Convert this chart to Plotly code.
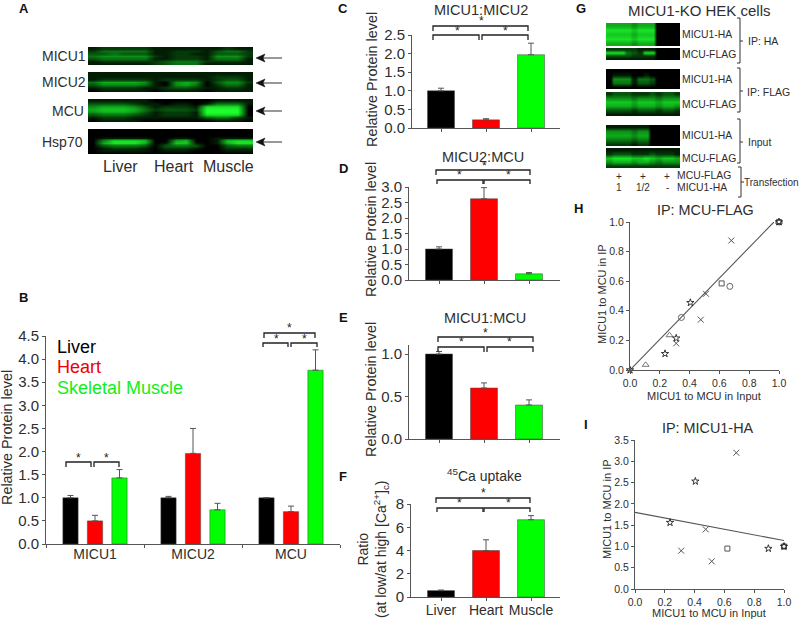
import plotly.graph_objects as go

W, H = 800, 621
BLACK, RED, GREEN = "#000000", "#ff0000", "#00ff00"
TXT = "#2e2e2e"
AX = "#555555"
FONT = "Liberation Sans, Arial, sans-serif"

# ---------- data ----------
B_CATS = ["MICU1", "MICU2", "MCU"]
B_LIVER = [1.0, 1.0, 1.0]
B_LIVER_ERR = [0.05, 0.03, 0.0]
B_HEART = [0.5, 1.96, 0.7]
B_HEART_ERR = [0.12, 0.54, 0.12]
B_MUSCLE = [1.43, 0.74, 3.76]
B_MUSCLE_ERR = [0.18, 0.14, 0.44]

TISSUES = ["Liver", "Heart", "Muscle"]
C_VALS = [1.0, 0.22, 1.97]
C_ERR = [0.07, 0.03, 0.31]
D_VALS = [1.0, 2.62, 0.2]
D_ERR = [0.07, 0.36, 0.04]
E_VALS = [1.0, 0.6, 0.4]
E_ERR = [0.03, 0.06, 0.06]
F_VALS = [0.55, 4.0, 6.65]
F_ERR = [0.05, 0.92, 0.35]

H_CROSS_X = [0.68, 0.51, 0.475, 0.31]
H_CROSS_Y = [0.875, 0.515, 0.34, 0.18]
H_STAR_X = [0.405, 0.31, 0.235, 0.0, 1.0]
H_STAR_Y = [0.455, 0.215, 0.11, 0.0, 1.0]
H_CIRCLE_X = [0.345, 0.67, 1.0]
H_CIRCLE_Y = [0.355, 0.565, 1.0]
H_SQUARE_X = [0.615, 1.0]
H_SQUARE_Y = [0.585, 1.0]
H_TRI_X = [0.105, 0.265, 1.0]
H_TRI_Y = [0.035, 0.235, 1.0]
H_FIT_X = [0.0, 0.966]
H_FIT_Y = [0.0, 1.0]

I_CROSS_X = [0.68, 0.475, 0.31, 0.515]
I_CROSS_Y = [3.2, 1.4, 0.9, 0.65]
I_STAR_X = [0.405, 0.235, 0.895, 1.0]
I_STAR_Y = [2.53, 1.56, 0.95, 1.0]
I_SQUARE_X = [0.62, 1.0]
I_SQUARE_Y = [0.95, 1.0]
I_CIRCLE_X = [1.0]
I_CIRCLE_Y = [1.0]
I_FIT_X = [0.0, 1.0]
I_FIT_Y = [1.8, 1.14]

# Blot intensities (0-9), read by eye, one string per row
A_MICU1 = ["1222221111111211", "2444441122213442", "3343331122113332", "4555552122215552",
           "3444441122214441", "1222222344422221", "1111112344411111"]
A_MICU2 = ["1111111111111111", "1111111111112221", "1222221222212331", "4666651056503552",
           "3555541056402441", "1222211233211221", "0111110111101111"]
A_MCU = ["1111110000001111", "3333211011014441", "5666531222188880", "6777642333299990",
         "5666531222199990", "3444321222188880", "1222111111134421", "0111100000001110"]
A_HSP = ["0000000000000000", "0000000000000000", "0000000000000000", "0111110011001111",
         "0588870067001788", "0688860177101688", "0344430344300344", "0122210222100222",
         "0111110111000111", "0000000000000000"]
G_1 = ["666656660000", "888878880000", "777767770000", "888878880000", "666656660000"]
G_2 = ["222221110000", "888432880000", "333322220000", "111111110000"]
G_3 = ["000000000000", "011100100000", "055514430000", "044413320000", "000000000000"]
G_4 = ["233322232332", "555545554555", "777767776777", "666656665665", "333323332332", "111111111111"]
G_5 = ["111111100000", "555545500000", "666656600000", "444434400000", "222212200000"]
G_6 = ["111111111111", "233322232221", "788877876776", "566656654555", "222222222222"]

fig = go.Figure()
layout = dict(
    template="none",
    width=W, height=H, margin=dict(l=0, r=0, t=0, b=0, pad=0),
    paper_bgcolor="white", plot_bgcolor="rgba(0,0,0,0)", showlegend=False,
    barmode="overlay", font=dict(family=FONT, color=TXT),
)
shapes, annos = [], []
# pixel-overlay axes used for annotation, brackets and blots
layout["xaxis"] = dict(domain=[0, 1], range=[0, W], visible=False, fixedrange=True, automargin=False)
layout["yaxis"] = dict(domain=[0, 1], range=[H, 0], visible=False, fixedrange=True, automargin=False)


def T(x, y, text, size=14, color=TXT, anchor="center", angle=0, bold=False):
    annos.append(dict(xref="x", yref="y", x=x, y=y, text=f"<b>{text}</b>" if bold else text,
                      showarrow=False, xanchor=anchor, yanchor="middle", textangle=angle,
                      font=dict(size=size, color=color, family=FONT), borderpad=0, borderwidth=0))


def bracket(x0, x1, ytop, ybot, star_x=None, star_y=None):
    shapes.append(dict(type="path", xref="x", yref="y",
                       path=f"M {x0} {ybot} L {x0} {ytop} L {x1} {ytop} L {x1} {ybot}",
                       line=dict(color="#222222", width=1.3), layer="above"))
    T((x0 + x1) / 2 if star_x is None else star_x, star_y, "*", size=12, color="#222222")


def arrow(x_tip, x_tail, y):
    shapes.append(dict(type="path", xref="x", yref="y", path=f"M {x_tip + 5} {y} L {x_tail} {y}",
                       line=dict(color="#333", width=1), layer="above"))
    shapes.append(dict(type="path", xref="x", yref="y",
                       path=f"M {x_tip} {y} L {x_tip + 9} {y - 4} L {x_tip + 7} {y} L {x_tip + 9} {y + 4} Z",
                       fillcolor="#111", line=dict(color="#111", width=0.5), layer="above"))


def blot(rows, left, top, right, bottom, rep=1):
    z = [[int(c) for c in r for _ in range(rep)] for r in rows]
    nc, nr = len(z[0]), len(z)
    dx, dy = (right - left) / nc, (bottom - top) / nr
    fig.add_trace(go.Heatmap(z=z, x0=left + dx / 2, dx=dx, y0=top + dy / 2, dy=dy,
                             xaxis="x", yaxis="y", zmin=0, zmax=9, zsmooth="best", showscale=False,
                             hoverinfo="skip",
                             colorscale=[[0, "#000000"], [0.6, "#0c9a18"], [1, "#1eff2c"]]))


def axes(n, left, top, right, bottom, xr, yr, **kw):
    xa = dict(domain=[left / W, right / W], range=xr, anchor=f"y{n}", showgrid=False, zeroline=False,
              showline=True, linecolor=AX, linewidth=1, ticks="outside", ticklen=3, tickwidth=1,
              automargin=False, tickcolor=AX, fixedrange=True,
              tickfont=dict(size=kw.get("xfs", 14), color=TXT, family=FONT))
    ya = dict(domain=[1 - bottom / H, 1 - top / H], range=yr, anchor=f"x{n}", showgrid=False, zeroline=False,
              showline=True, linecolor=AX, linewidth=1, ticks="outside", ticklen=3, tickwidth=1,
              automargin=False, tickcolor=AX, fixedrange=True,
              tickfont=dict(size=kw.get("yfs", 15), color=TXT, family=FONT))
    xa.update(kw.get("x", {}))
    ya.update(kw.get("y", {}))
    layout[f"xaxis{n}"] = xa
    layout[f"yaxis{n}"] = ya


def err(a):
    return dict(type="data", symmetric=False, array=a, arrayminus=[0] * len(a),
                color="#555555", thickness=1, width=3)


# ---------- panel A ----------
T(24, 8, "A", 13, "#111", bold=True)
for rows, t, b, lab, lx, ay in [(A_MICU1, 47, 65, "MICU1", 64, 58), (A_MICU2, 72, 92, "MICU2", 64, 83),
                                (A_MCU, 99, 122, "MCU", 68, 111), (A_HSP, 129, 154, "Hsp70", 62, 142)]:
    blot(rows, 88, t, 253, b)
    T(lx, (t + b) / 2, lab, 14)
    arrow(256, 282, ay)
for x, s in [(120, "Liver"), (174, "Heart"), (228, "Muscle")]:
    T(x, 166, s, 16)

# ---------- panel B ----------
T(23, 297, "B", 13, "#111", bold=True)
axes(2, 46, 336, 340, 544, [-0.5, 2.5], [0, 4.5],
     x=dict(type="category", categoryorder="array", categoryarray=B_CATS, tickson="boundaries",
            ticklabelstandoff=-3),
     y=dict(tickvals=[0, .5, 1, 1.5, 2, 2.5, 3, 3.5, 4, 4.5], tickformat=".1f"))
for vals, e, col, off in [(B_LIVER, B_LIVER_ERR, BLACK, -0.25), (B_HEART, B_HEART_ERR, RED, 0.0),
                          (B_MUSCLE, B_MUSCLE_ERR, GREEN, 0.25)]:
    fig.add_trace(go.Bar(x=B_CATS, y=vals, xaxis="x2", yaxis="y2", width=0.156, offset=off - 0.078,
                         marker=dict(color=col, line=dict(color="#444", width=0.5)), error_y=err(e)))
T(7, 438, "Relative Protein level", 14.4, angle=-90)
T(57, 347, "Liver", 18, "#000000", "left")
T(57, 367, "Heart", 18, "#ee0000", "left")
T(57, 388, "Skeletal Muscle", 18, "#10ee20", "left")
bracket(66, 91, 462, 467, 78, 458)
bracket(94, 119, 462, 467, 106, 458)
bracket(263, 288, 343, 347, 276, 339)
bracket(291, 317, 343, 347, 304, 339)
bracket(264, 315, 333, 338, 289, 328)


# ---------- panels C-F ----------
def barpanel(n, left, top, bottom, y_max, ticks, vals, errs, xc0, labels=False, fmt=".1f"):
    step = 45
    xr = [(left - xc0) / step, (560 - xc0) / step]
    xcfg = dict(tickvals=[0, 1, 2])
    if labels:
        xcfg["ticktext"] = TISSUES
        xcfg["ticklabelstandoff"] = -3
    else:
        xcfg["showticklabels"] = False
    axes(n, left, top, 560, bottom, xr, [0, y_max], x=xcfg,
         y=dict(tickvals=ticks, tickformat=fmt))
    fig.add_trace(go.Bar(x=[0, 1, 2], y=vals, xaxis=f"x{n}", yaxis=f"y{n}", width=0.6,
                         marker=dict(color=[BLACK, RED, GREEN], line=dict(color="#444", width=0.5)),
                         error_y=err(errs)))


barpanel(3, 412, 35, 128, 2.5, [0, .5, 1, 1.5, 2, 2.5], C_VALS, C_ERR, 441)
T(343, 8, "C", 13, "#111", bold=True)
T(481, 10, "MICU1:MICU2", 14.5)
T(372, 80, "Relative Protein level", 14.4, angle=-90)
bracket(433, 479, 35, 40, 457, 31)
bracket(482, 528, 35, 40, 505, 31)
bracket(433, 528, 26, 31, 481, 21)

barpanel(4, 409, 187, 280, 3.0, [0, .5, 1, 1.5, 2, 2.5, 3], D_VALS, D_ERR, 439)
T(343, 168, "D", 13, "#111", bold=True)
T(483, 157, "MICU2:MCU", 14.5)
T(371, 230, "Relative Protein level", 14.4, angle=-90)
bracket(437, 483, 180, 184, 459, 175)
bracket(484, 530, 180, 184, 508, 175)
bracket(436, 530, 170, 175, 484, 166)

barpanel(5, 409, 345, 439, 1.106, [0, .5, 1], E_VALS, E_ERR, 439)
T(343, 317, "E", 13, "#111", bold=True)
T(485, 318, "MICU1:MCU", 14.5)
T(371, 390, "Relative Protein level", 14.4, angle=-90)
bracket(438, 484, 347, 352, 461, 342)
bracket(487, 533, 347, 352, 509, 342)
bracket(438, 533, 337, 342, 485, 333)

barpanel(6, 411, 504, 597, 8, [0, 2, 4, 6, 8], F_VALS, F_ERR, 441, labels=True, fmt="d")
T(343, 476, "F", 13, "#111", bold=True)
T(484, 475, "<sup>45</sup>Ca uptake", 14)
T(373, 550, "Ratio<br>(at low/at high [Ca<sup>2+</sup>]<sub>c</sub>)", 14, angle=-90)
bracket(437, 483, 508, 512, 459, 503)
bracket(484, 530, 508, 512, 508, 503)
bracket(436, 530, 498, 503, 483, 493)

# ---------- panel G ----------
T(581, 8, "G", 13, "#111", bold=True)
T(699, 10, "MICU1-KO HEK cells", 15)
for rows, t, b, lab in [(G_1, 23, 46, "MICU1-HA"), (G_2, 48, 60, "MCU-FLAG"), (G_3, 69, 89, "MICU1-HA"),
                        (G_4, 92, 116, "MCU-FLAG"), (G_5, 125, 146, "MICU1-HA"), (G_6, 148, 168, "MCU-FLAG")]:
    blot(rows, 606, t, 680, b, rep=2)
    T(682, (t + b) / 2, lab, 10.4, anchor="left")


def side(x0, x1, ytop, ybot, ymid, xt):
    shapes.append(dict(type="path", xref="x", yref="y",
                       path=f"M {x0} {ytop} L {x1} {ytop} L {x1} {ybot} L {x0} {ybot} M {x1} {ymid} L {xt} {ymid}",
                       line=dict(color="#333", width=1), layer="above"))


side(737, 740, 18, 63, 41, 743)
side(737, 740, 68, 112, 91, 743)
side(737, 740, 119, 163, 142, 743)
side(738, 741, 167, 197, 182, 744)
T(748, 41, "IP: HA", 10.5, anchor="left")
T(747, 92, "IP: FLAG", 10.5, anchor="left")
T(748, 142, "Input", 10.5, anchor="left")
T(744, 182, "Transfection", 10, anchor="left")
for x, a, b in [(619, "+", "1"), (643, "+", "1/2"), (667, "+", "-")]:
    T(x, 176, a, 10)
    T(x, 187, b, 10)
T(677, 175, "MCU-FLAG", 10.4, anchor="left")
T(677, 187, "MICU1-HA", 10.4, anchor="left")


# ---------- panels H, I ----------
def pts(n, xs, ys, sym, col, size=8, lw=1):
    fig.add_trace(go.Scatter(x=xs, y=ys, xaxis=f"x{n}", yaxis=f"y{n}", mode="markers", cliponaxis=False,
                             marker=dict(symbol=sym, size=size, color=col,
                                         line=dict(color=col, width=lw))))


def fit(n, xs, ys):
    fig.add_trace(go.Scatter(x=xs, y=ys, xaxis=f"x{n}", yaxis=f"y{n}", mode="lines", cliponaxis=False,
                             line=dict(color="#555", width=1.1)))


X_T = dict(tickvals=[0, .2, .4, .6, .8, 1.0], tickformat=".1f")
axes(7, 630, 222, 779, 370, [0, 1], [0, 1], xfs=10.5, yfs=10.5,
     x=X_T, y=dict(tickvals=[0, .2, .4, .6, .8, 1.0], tickformat=".1f"))
fit(7, H_FIT_X, H_FIT_Y)
pts(7, H_CROSS_X, H_CROSS_Y, "x-thin-open", "#555", 6)
pts(7, H_CIRCLE_X, H_CIRCLE_Y, "circle-open", "#666", 6)
pts(7, H_SQUARE_X, H_SQUARE_Y, "square-open", "#555", 5)
pts(7, H_TRI_X, H_TRI_Y, "triangle-up-open", "#777", 6)
pts(7, H_STAR_X, H_STAR_Y, "star-open", "#222", 5.5, 0.9)
T(578, 208, "H", 13, "#111", bold=True)
T(705, 210, "IP: MCU-FLAG", 14.4)
T(704, 396, "MICU1 to MCU in Input", 11)
T(602, 294, "MICU1 to MCU in IP", 11, angle=-90)

axes(8, 635, 440, 784, 589, [0, 1], [0, 3.5], xfs=10.5, yfs=10.5,
     x=X_T, y=dict(tickvals=[0, .5, 1, 1.5, 2, 2.5, 3, 3.5], tickformat=".1f"))
fit(8, I_FIT_X, I_FIT_Y)
pts(8, I_CROSS_X, I_CROSS_Y, "x-thin-open", "#555", 6)
pts(8, I_SQUARE_X, I_SQUARE_Y, "square-open", "#555", 5)
pts(8, I_CIRCLE_X, I_CIRCLE_Y, "circle-open", "#555", 5)
pts(8, I_STAR_X, I_STAR_Y, "star-open", "#222", 5.5, 0.9)
T(586, 424, "I", 13, "#111", bold=True)
T(708, 428, "IP: MICU1-HA", 14.4)
T(709, 613, "MICU1 to MCU in Input", 11)
T(607, 509, "MICU1 to MCU in IP", 11, angle=-90)

layout["shapes"] = shapes
layout["annotations"] = annos
fig.update_layout(**layout)
fig.write_html("out.html", config={"displayModeBar": False},
               post_script="document.body.style.margin='0';document.documentElement.style.overflow='hidden';")
